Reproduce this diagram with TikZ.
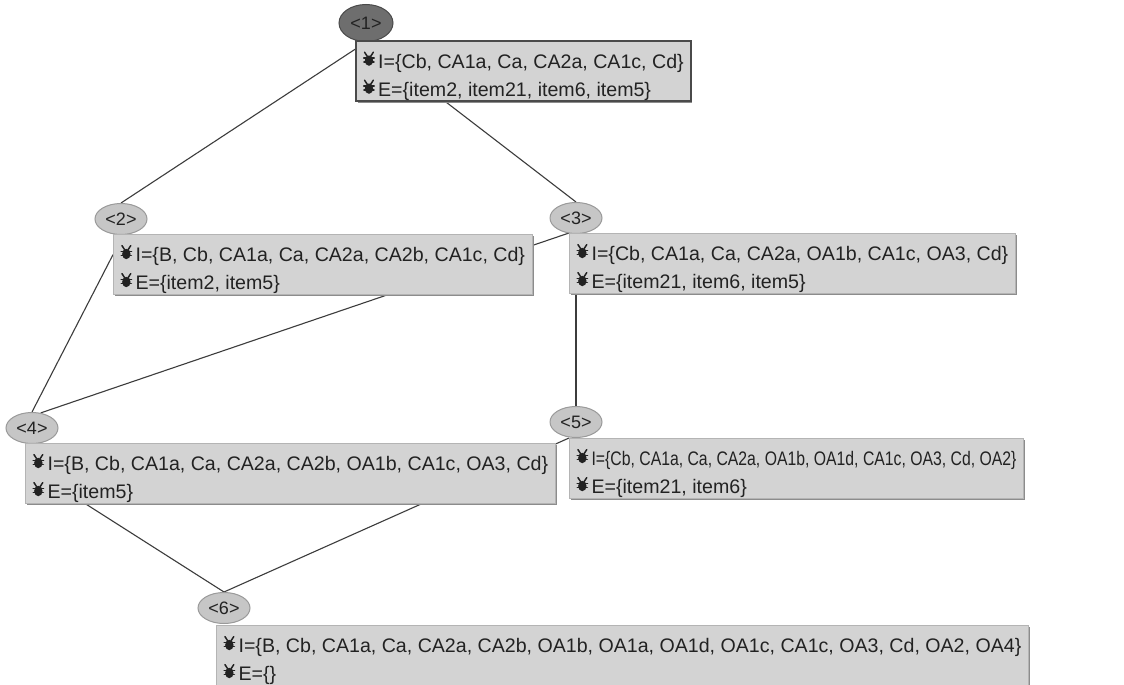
\documentclass[tikz,border=0pt]{standalone}
\usepackage{fontspec}
\usepackage{graphicx}
\setmainfont{Liberation Sans}
\usetikzlibrary{shapes.geometric,calc,backgrounds,shadows}

\definecolor{boxfill}{HTML}{D3D3D3}
\definecolor{boxline}{HTML}{B4B4B4}
\definecolor{boxshade}{HTML}{8C8C8C}
\definecolor{ovalfill}{HTML}{C6C6C6}
\definecolor{ovalline}{HTML}{9A9A9A}
\definecolor{ovalsel}{HTML}{6E6E6E}
\definecolor{selline}{HTML}{4A4A4A}
\definecolor{txt}{HTML}{222222}
\definecolor{edge}{HTML}{3C3C3C}

% little beetle icon in front of each row
\newcommand{\bugicon}{\tikz[x=1pt,y=1pt,baseline=0pt,line width=1.5pt,line cap=round]{
    \draw[txt] (4.4,11.5)--(1.6,15.8) (7.6,11.5)--(10.4,15.8);
    \draw[txt] (0.8,10)--(11.2,10) (1,6)--(11,6);
    \fill[txt] (6,7.4) ellipse (4.2pt and 5.2pt);}}
% one info box: optional horizontal squeeze of the I row
\newcommand{\entry}[3][1]{\rule{0pt}{27pt}\bugicon\,\scalebox{#1}[1]{I=\{#2\}}\\\bugicon\,E=\{#3\}\rule[-5pt]{0pt}{5pt}}

\begin{document}
\begin{tikzpicture}[x=1pt,y=-1pt,
    lbl/.style={ellipse,draw=ovalline,fill=ovalfill,line width=1pt,inner sep=0pt,
        minimum width=52pt,minimum height=31pt,text=txt,font=\fontsize{18}{20}\selectfont},
    lblsel/.style={lbl,fill=ovalsel,draw=selline,minimum width=54pt,minimum height=37pt},
    info/.style={rectangle,anchor=north west,fill=boxfill,draw=boxline,line width=0.8pt,
        inner xsep=7pt,inner ysep=0pt,align=left,text=txt,
        font=\fontsize{19.6}{28}\selectfont,
        drop shadow={shadow xshift=1.5pt,shadow yshift=-1.5pt,fill=boxshade,opacity=1}},
    infosel/.style={info,draw=selline,line width=2pt},
    link/.style={draw=edge,line width=1.1pt}]
    \useasboundingbox (0,0) rectangle (1124,685);

    % concept nodes
    \node[lblsel] (e1) at (366,23) {<1>};
    \node[infosel] (b1) at (355,40) {\entry{Cb, CA1a, Ca, CA2a, CA1c, Cd}{item2, item21, item6, item5}};
    \node[lbl] (e2) at (121,219) {<2>};
    \node[info] (b2) at (113,234) {\entry{B, Cb, CA1a, Ca, CA2a, CA2b, CA1c, Cd}{item2, item5}};
    \node[lbl] (e3) at (576,218) {<3>};
    \node[info] (b3) at (569,233) {\entry{Cb, CA1a, Ca, CA2a, OA1b, CA1c, OA3, Cd}{item21, item6, item5}};
    \node[lbl] (e4) at (32,428) {<4>};
    \node[info] (b4) at (25,443) {\entry{B, Cb, CA1a, Ca, CA2a, CA2b, OA1b, CA1c, OA3, Cd}{item5}};
    \node[lbl] (e5) at (576,422) {<5>};
    \node[info] (b5) at (569,438) {\entry[0.805]{Cb, CA1a, Ca, CA2a, OA1b, OA1d, CA1c, OA3, Cd, OA2}{item21, item6}};
    \node[lbl] (e6) at (224,608) {<6>};
    \node[info] (b6) at (216,625) {\entry{B, Cb, CA1a, Ca, CA2a, CA2b, OA1b, OA1a, OA1d, OA1c, CA1c, OA3, Cd, OA2, OA4}{}};

    % lattice edges, behind the boxes
    \begin{pgfonlayer}{background}
        \fill[white] (0,0) rectangle (1124,685);
        \draw[link] (e2.north) -- ($(b1.north west)!0.15!(b1.south west)$);
        \draw[link] ($(b1.south west)!0.27!(b1.south east)$) -- (e3.north);
        \draw[link] (e4.north) -- ($(b2.north west)!0.34!(b2.south west)$);
        \draw[link] (e4.60) -- (b3.north west);
        \draw[link] (e3.south) -- (e5.north);
        \draw[link] ($(b4.south west)!0.114!(b4.south east)$) -- (e6.north);
        \draw[link] (b5.north west) -- (e6.north);
    \end{pgfonlayer}
\end{tikzpicture}
\end{document}
